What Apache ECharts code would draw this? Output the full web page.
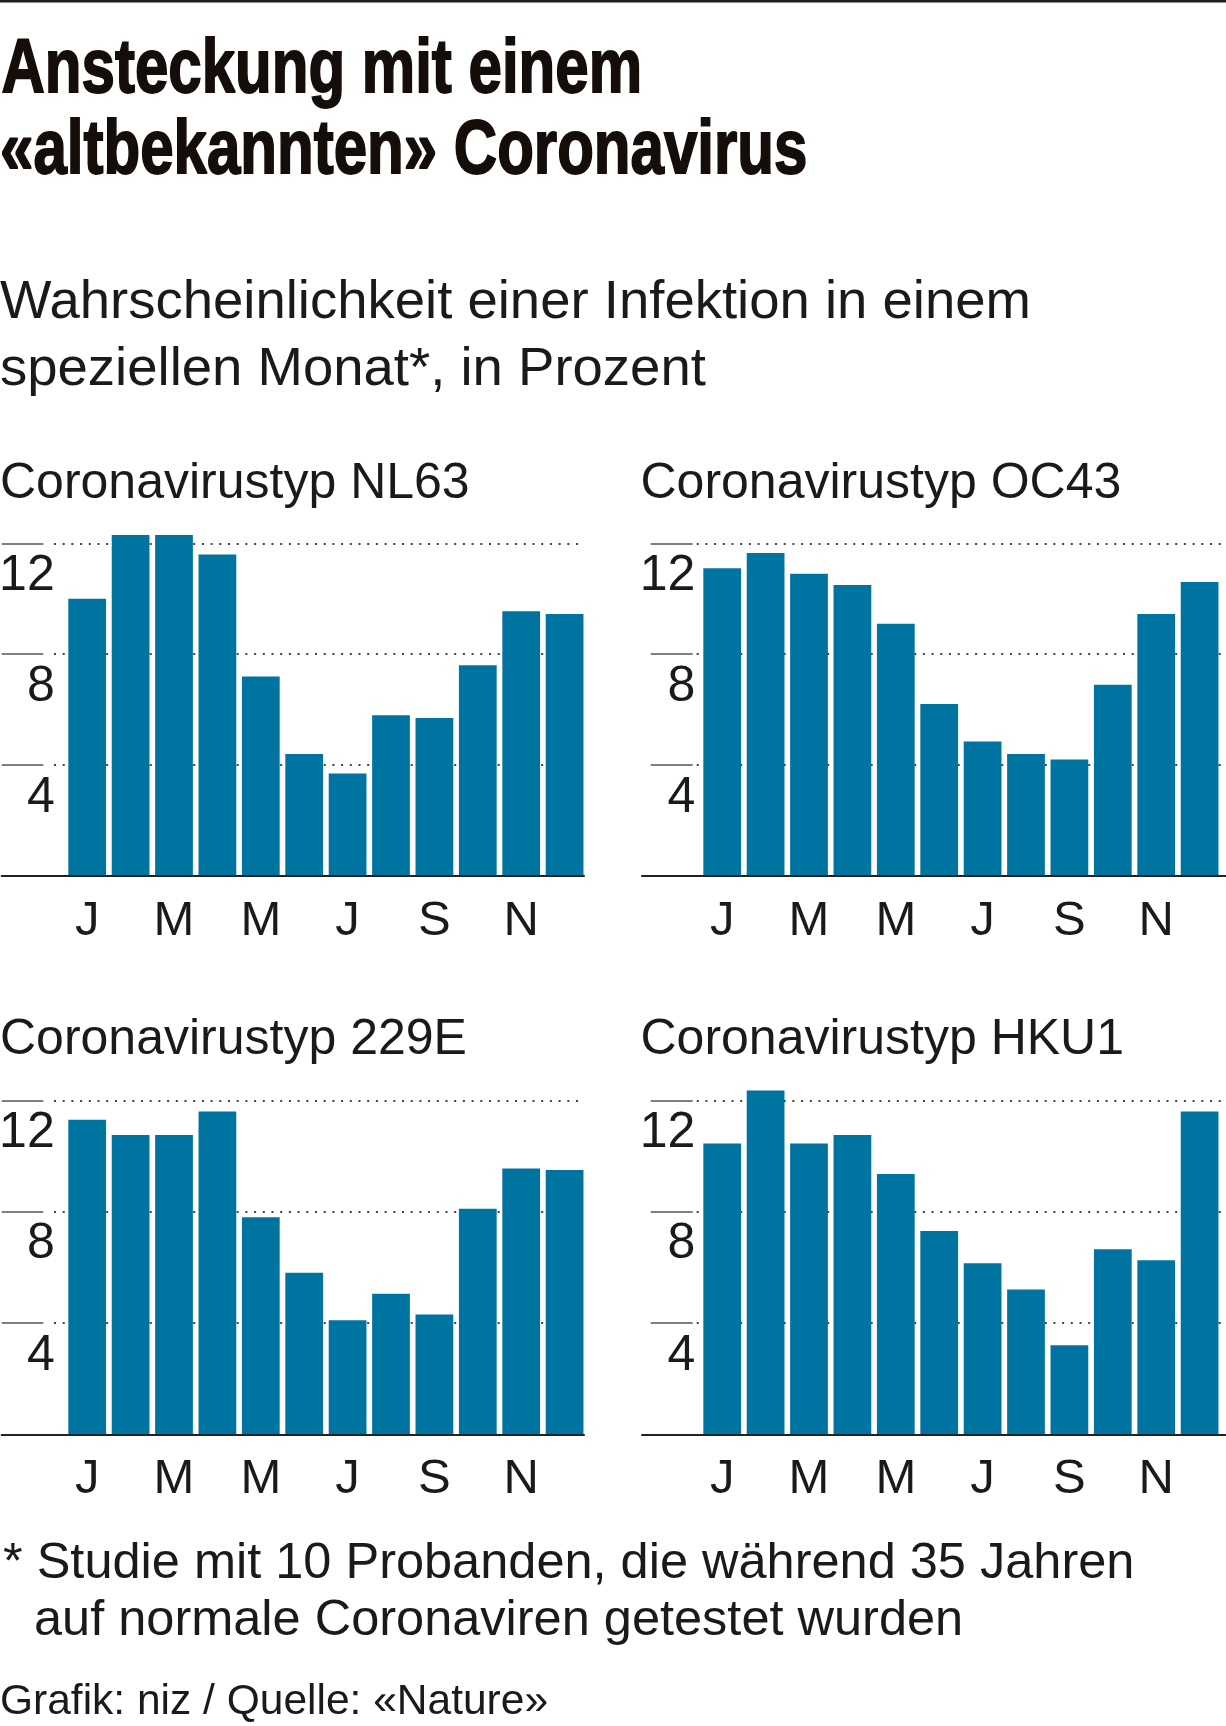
<!DOCTYPE html>
<html><head><meta charset="utf-8">
<script src="https://cdn.jsdelivr.net/npm/echarts@6/dist/echarts.min.js"></script>
<style>html,body{margin:0;padding:0;background:#fff}#c{width:1226px;height:1726px}</style>
</head><body><div id="c"></div>
<script>
// ---- data ----
const months = ['Jan','Feb','Mär','Apr','Mai','Jun','Jul','Aug','Sep','Okt','Nov','Dez'];
const yTicks = [4, 8, 12];
const panelNames = ['Coronavirustyp NL63','Coronavirustyp OC43','Coronavirustyp 229E','Coronavirustyp HKU1'];
const nl63 = [10.0, 12.3, 12.3, 11.6, 7.2, 4.4, 3.7, 5.8, 5.7, 7.6, 9.55, 9.45];
const oc43 = [11.1, 11.65, 10.9, 10.5, 9.1, 6.2, 4.85, 4.4, 4.2, 6.9, 9.45, 10.6];
const e229 = [11.3, 10.75, 10.75, 11.6, 7.8, 5.8, 4.1, 5.05, 4.3, 8.1, 9.55, 9.5];
const hku1 = [10.45, 12.35, 10.45, 10.75, 9.35, 7.3, 6.15, 5.2, 3.2, 6.65, 6.25, 11.6];
const seriesData = [nl63, oc43, e229, hku1];

const titleLines = ['Ansteckung mit einem', '«altbekannten» Coronavirus'];
const subtitleLines = ['Wahrscheinlichkeit einer Infektion in einem', 'speziellen Monat*, in Prozent'];
const noteLines = ['* Studie mit 10 Probanden, die während 35 Jahren', 'auf normale Coronaviren getestet wurden'];
const sourceText = 'Grafik: niz / Quelle: «Nature»';

// ---- layout ----
const FONT = '"Liberation Sans", Arial, Helvetica, sans-serif';
const BAR = '#0074a0';
const TXT = '#1a1a1a';
const layout = [
  {barL:65.5, barW:520.8, dotL:54, dotR:583, tickL:1.7, tickR:43.3, baseL:1.7, baseR:584, top:543.3, h:332.7, labR:54.7, tx:0, ty:501.5},
  {barL:700.5, barW:520.8, dotL:696.7, dotR:1226, tickL:650.7, tickR:692.7, baseL:642, baseR:1226, top:543.3, h:332.7, labR:695.3, tx:640.5, ty:501.5},
  {barL:65.5, barW:520.8, dotL:54, dotR:583, tickL:1.7, tickR:43.3, baseL:1.7, baseR:584, top:1100.3, h:334, labR:54.7, tx:0, ty:1057.5},
  {barL:700.5, barW:520.8, dotL:696.7, dotR:1226, tickL:650.7, tickR:692.7, baseL:642, baseR:1226, top:1100.3, h:334, labR:695.3, tx:640.5, ty:1057.5}
];

const yMax = yTicks[yTicks.length - 1];
const yStep = yTicks[1] - yTicks[0];

const grid = [], xAxis = [], yAxis = [], series = [], graphic = [];

function midY(baseline, fs) { return baseline - 0.3465 * fs; }
function mkGrid(left, top, width, height) {
  return {left, top, width, height, containLabel: false, outerBoundsMode: 'none'};
}

layout.forEach((p, i) => {
  const gb = i * 4, gd = i * 4 + 1, gl = i * 4 + 2, gt = i * 4 + 3;
  grid[gb] = mkGrid(p.barL, p.top, p.barW, p.h);
  grid[gd] = mkGrid(p.dotL, p.top, p.dotR - p.dotL, p.h);
  grid[gl] = mkGrid(p.baseL, p.top, p.baseR - p.baseL, p.h);
  grid[gt] = mkGrid(p.tickL, p.top, p.tickR - p.tickL, p.h);

  // bar grid axes
  xAxis[gb] = {
    type: 'category', gridIndex: gb, data: months,
    axisLine: {show: false}, axisTick: {show: false},
    axisLabel: {interval: 1, formatter: v => v.charAt(0), fontFamily: FONT, fontSize: 49, color: TXT, margin: 20.5}
  };
  yAxis[gb] = {
    type: 'value', gridIndex: gb, min: 0, max: yMax, interval: yStep,
    axisLine: {show: false}, axisTick: {show: false}, splitLine: {show: false},
    axisLabel: {showMinLabel: false, fontFamily: FONT, fontSize: 50, color: TXT,
      margin: p.barL - p.labR, verticalAlign: 'top', lineHeight: 66}
  };
  // dotted gridlines
  xAxis[gd] = {type: 'value', gridIndex: gd, show: false};
  yAxis[gd] = {
    type: 'value', gridIndex: gd, min: 0, max: yMax, interval: yStep,
    axisLine: {show: false}, axisLabel: {show: false}, axisTick: {show: false},
    splitLine: {show: true, lineStyle: {color: '#444', width: 2, type: [2, 6.7]}}
  };
  // short solid tick segments at the left
  xAxis[gt] = {type: 'value', gridIndex: gt, show: false};
  yAxis[gt] = {
    type: 'value', gridIndex: gt, min: 0, max: yMax, interval: yStep,
    axisLine: {show: false}, axisLabel: {show: false}, axisTick: {show: false},
    splitLine: {show: true, lineStyle: {color: '#555', width: 1.5, type: 'solid'}}
  };
  // baseline
  xAxis[gl] = {
    type: 'value', gridIndex: gl, min: 0, max: 1, z: 5,
    axisLine: {show: true, onZero: false, lineStyle: {color: '#222', width: 2}},
    axisTick: {show: false}, axisLabel: {show: false}, splitLine: {show: false}
  };
  yAxis[gl] = {type: 'value', gridIndex: gl, min: 0, max: 1, show: false};

  series.push({
    type: 'bar', name: panelNames[i], xAxisIndex: gb, yAxisIndex: gb,
    data: seriesData[i], barCategoryGap: '13%', clip: false,
    itemStyle: {color: BAR}, silent: true
  });

  graphic.push({type: 'text', x: p.tx, y: midY(p.ty, 50),
    style: {text: panelNames[i], font: '50px ' + FONT, fill: TXT, verticalAlign: 'middle'}});
});

// top rule
graphic.push({type: 'rect', shape: {x: 0, y: 0, width: 1226, height: 2.5}, style: {fill: '#1e1e1e'}});
// headline
const TFS = 76;
[97, 178].forEach((b, k) => {
  graphic.push({type: 'text', x: k === 0 ? 1.5 : 0, y: midY(b, TFS), scaleX: 0.79,
    style: {text: titleLines[k], font: 'bold ' + TFS + 'px ' + FONT, fill: '#150d0a',
      stroke: '#150d0a', lineWidth: 1.8, verticalAlign: 'middle'}});
});
// subtitle
[321.5, 389].forEach((b, k) => {
  graphic.push({type: 'text', x: 0, y: midY(b, 54.5),
    style: {text: subtitleLines[k], font: '54.5px ' + FONT, fill: TXT, verticalAlign: 'middle'}});
});
// footnote
graphic.push({type: 'text', x: 3, y: midY(1582, 50.5),
  style: {text: noteLines[0], font: '50.5px ' + FONT, fill: TXT, verticalAlign: 'middle'}});
graphic.push({type: 'text', x: 34, y: midY(1638.7, 50.5),
  style: {text: noteLines[1], font: '50.5px ' + FONT, fill: TXT, verticalAlign: 'middle'}});
graphic.push({type: 'text', x: 0, y: midY(1717, 42.5),
  style: {text: sourceText, font: '42.5px ' + FONT, fill: TXT, verticalAlign: 'middle'}});

const chart = echarts.init(document.getElementById('c'), null, {renderer: 'canvas'});
chart.setOption({
  backgroundColor: '#ffffff',
  animation: false,
  grid, xAxis, yAxis, series, graphic
});
</script>
</body></html>
